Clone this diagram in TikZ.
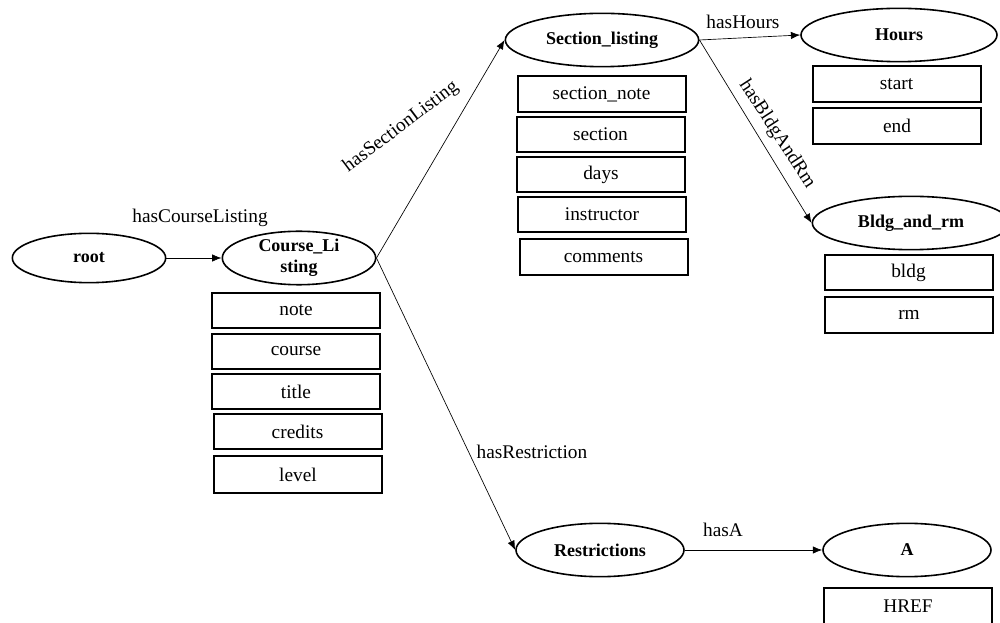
\documentclass[tikz,border=0pt]{standalone}
\usepackage{fontspec}
\setmainfont{Liberation Serif}
\usetikzlibrary{shapes.geometric,arrows.meta}
\begin{document}
\begin{tikzpicture}[x=0.75pt,y=-0.75pt,
  ent/.style={draw,ellipse,line width=1.2pt,inner sep=0pt,font=\fontsize{13.5}{14}\selectfont\bfseries,align=center},
  attr/.style={draw,rectangle,line width=1.5pt,inner sep=0pt,minimum width=126pt,minimum height=26.5pt,font=\fontsize{14.5}{16}\selectfont},
  lbl/.style={font=\fontsize{14.5}{16}\selectfont,inner sep=0pt},
  rel/.style={line width=0.5pt,-{Latex[length=7pt,width=5.5pt]}}]
\useasboundingbox (0,0) rectangle (1000,623);
% entities
\node[ent,minimum width=115pt,minimum height=37pt] (root) at (89,258) {root};
\node[ent,minimum width=115pt,minimum height=39pt] (cl) at (299,258) {Course\_Li\\[2pt]sting};
\node[ent,minimum width=145pt,minimum height=40pt] (sl) at (602,40) {Section\_listing};
\node[ent,minimum width=147pt,minimum height=40pt] (hr) at (899,35) {Hours};
\node[ent,minimum width=148pt,minimum height=40pt] (br) at (911,223) {Bldg\_and\_rm};
\node[ent,minimum width=126pt,minimum height=40pt] (rs) at (600,550) {Restrictions};
\node[ent,minimum width=126pt,minimum height=40pt] (aa) at (907,550) {A};
% attributes of Course_Listing
\node[attr] (note) at (296,310.5) {note};
\node[attr] (course) at (296,351.5) {course};
\node[attr] (title) at (296,391.5) {title};
\node[attr] (credits) at (297.5,431.5) {credits};
\node[attr,minimum height=27.5pt] (level) at (298,474.5) {level};
% attributes of Section_listing
\node[attr,minimum height=27pt] (snote) at (601.5,94) {section\_note};
\node[attr] (sect) at (600.5,134.5) {section};
\node[attr] (days) at (601,174.5) {days};
\node[attr] (instr) at (602,214.5) {instructor};
\node[attr,minimum height=27pt] (comm) at (603.5,257) {comments};
% attributes of Hours
\node[attr,minimum height=27pt] (start) at (896.5,84) {start};
\node[attr,minimum height=27pt] (end) at (897,126) {end};
% attributes of Bldg_and_rm
\node[attr] (bldg) at (908.5,272.5) {bldg};
\node[attr,minimum height=27pt] (rm) at (909,315) {rm};
% attribute of A
\node[attr,minimum height=27pt] (href) at (908,606) {HREF};
% relations
\draw[rel] (root.east) -- (cl.west);
\draw[rel] (cl.east) -- (sl.west);
\draw[rel] (cl.east) -- (rs.west);
\draw[rel] (sl.east) -- (hr.west);
\draw[rel] (sl.east) -- (br.west);
\draw[rel] (rs.east) -- (aa.west);
% labels
\node[lbl] (l1) at (200,218) {hasCourseListing};
\node[lbl,rotate=37] (l2) at (401,127) {hasSectionListing};
\node[lbl] (l3) at (532,452) {hasRestriction};
\node[lbl] (l4) at (743,22) {hasHours};
\node[lbl,rotate=-57] (l5) at (777,134) {hasBldgAndRm};
\node[lbl] (l6) at (723,530) {hasA};
\end{tikzpicture}
\end{document}
